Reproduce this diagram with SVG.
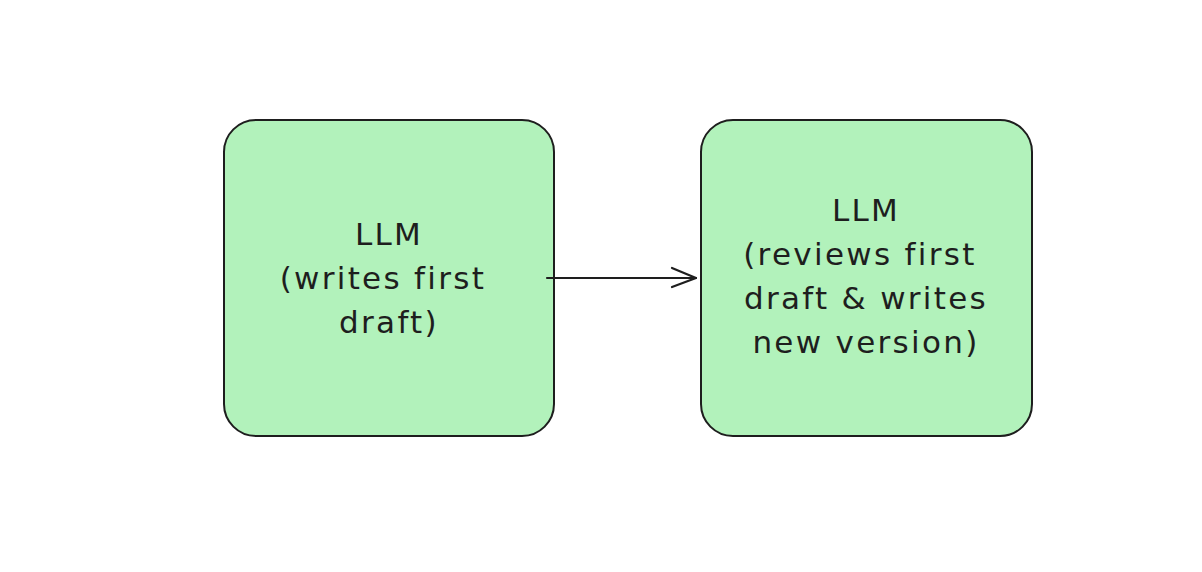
<svg xmlns="http://www.w3.org/2000/svg" width="1202" height="572" viewBox="0 0 1202 572">
<style>
.box{fill:#b2f2bb;stroke:#1e1e1e;stroke-width:2}
.lbl{font-family:"DejaVu Sans",sans-serif;font-size:31px;fill:#1e1e1e;text-anchor:middle;letter-spacing:2.3px;white-space:pre}
.conn{fill:none;stroke:#1e1e1e;stroke-width:2.2;stroke-linecap:round;stroke-linejoin:round}
</style>
<rect width="1202" height="572" fill="#ffffff"/>
<g id="node-writer">
<rect class="box" x="224" y="120" width="330" height="316" rx="32" ry="32"/>
<text class="lbl" xml:space="preserve"><tspan x="389" y="245">LLM</tspan><tspan x="389" y="289">(writes first </tspan><tspan x="389" y="333">draft)</tspan></text>
</g>
<g id="node-reviewer">
<rect class="box" x="701" y="120" width="331" height="316" rx="32" ry="32"/>
<text class="lbl" xml:space="preserve"><tspan x="866" y="221">LLM</tspan><tspan x="866" y="265">(reviews first </tspan><tspan x="866" y="309">draft &amp; writes</tspan><tspan x="866" y="353">new version)</tspan></text>
</g>
<g id="connectors">
<path class="conn" d="M547 278 L696 278"/>
<path class="conn" d="M672 268 L696 278 L672 287"/>
</g>
</svg>
